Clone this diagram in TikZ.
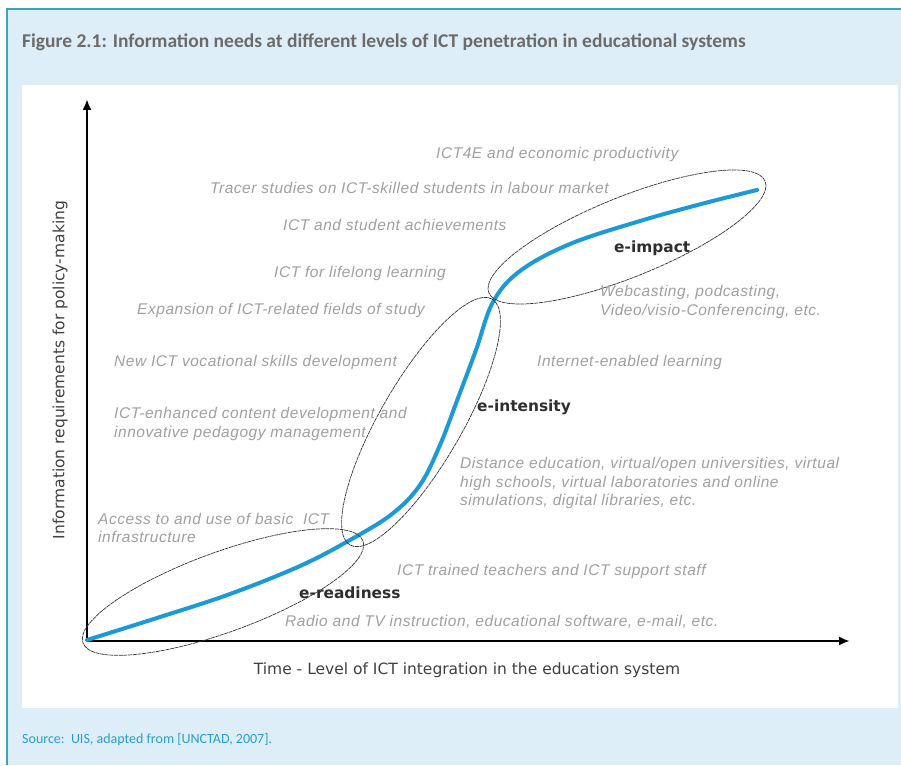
\documentclass[tikz,border=0pt]{standalone}
\usepackage{fontspec}
\setmainfont{Liberation Sans}
\newfontfamily\captfont{Carlito}
\newfontfamily\axisfont{DejaVu Sans}
\newfontfamily\notefont[LetterSpace=3.5]{Liberation Sans}
\usetikzlibrary{shapes.geometric, arrows.meta, positioning}
\definecolor{framebg}{HTML}{DDEEF8}
\definecolor{frameline}{HTML}{3FA2BB}
\definecolor{notegray}{HTML}{A0A0A0}
\definecolor{stagegray}{HTML}{2E2E2E}
\definecolor{curveblue}{HTML}{1C9AD6}
\definecolor{sourceblue}{HTML}{2A9DCC}

\begin{document}
\begin{tikzpicture}[x=1pt, y=-1pt,
    note/.style={font=\notefont\itshape\fontsize{15.5}{18.5}\selectfont,
      text=notegray, anchor=west, inner sep=0pt, align=left},
    stage/.style={font=\axisfont\bfseries\fontsize{15.4}{18}\selectfont,
      text=stagegray, inner sep=0pt, anchor=west},
    zone/.style={ellipse, draw=black!80, line width=0.7pt,
      dash pattern=on 4pt off 0.7pt, inner sep=0pt},
    axislabel/.style={font=\axisfont\fontsize{15.5}{18}\selectfont,
      text=black!75, inner sep=0pt}]
  \useasboundingbox (0,0) rectangle (901,765);

  % FRAME

  \fill[framebg] (7,9) rectangle (901,765);
  \draw[frameline, line width=1.6pt] (901,9) -- (7,9) -- (7,765);
  \fill[white] (22,85) rectangle (898,708);

  \node[anchor=west, inner sep=0pt, text=black!58,
    font=\captfont\bfseries\fontsize{19.5}{22}\selectfont] (figtitle) at (22,42)
    {Figure 2.1: Information needs at different levels of ICT penetration in educational systems};

  \node[anchor=west, inner sep=0pt, text=sourceblue,
    font=\captfont\fontsize{14}{16}\selectfont] (source) at (22,740)
    {Source:~~UIS, adapted from [UNCTAD, 2007].};

  % AXES

  \coordinate (origin) at (87,641);
  \coordinate (ytip) at (87,99);
  \coordinate (xtip) at (850,641);
  \draw[line width=2.2pt, -{Latex[length=11pt,width=9pt]}] (origin) -- (ytip);
  \draw[line width=2.2pt, -{Latex[length=11pt,width=9pt]}] (origin) -- (xtip);

  \node[axislabel, rotate=90] (ylabel) at (60,370)
    {Information requirements for policy-making};
  \node[axislabel] (xlabel) at (467,670)
    {Time - Level of ICT integration in the education system};

  % CURVE

  \draw[curveblue, line width=4pt, line cap=round]
    plot[smooth, tension=0.6] coordinates {(87,640) (160,617) (230,594)
      (300,566) (350,540) (392,514) (420,485) (440,445) (458,398)
      (476,350) (493,302) (520,271) (570,244) (640,221) (705,203) (757,190)};

  % ZONES

  \node[zone, minimum width=298, minimum height=80, rotate=20]
    (readyzone) at (223,592) {};
  \node[zone, minimum width=284, minimum height=82, rotate=60]
    (intenzone) at (421,422) {};
  \node[zone, minimum width=298, minimum height=80, rotate=22]
    (impactzone) at (627,237) {};

  \node[stage] (readiness) at (299,593) {e-readiness};
  \node[stage] (intensity) at (477,407) {e-intensity};
  \node[stage] (impact) at (614,248) {e-impact};

  % NEEDS (left) AND MEANS (right)

  \node[note] (productivity) at (436,154) {ICT4E and economic productivity};
  \node[note] (tracer) at (210,188) {Tracer studies on ICT-skilled students in labour market};
  \node[note] (achieve) at (283,225) {ICT and student achievements};
  \node[note] (lifelong) at (274,273) {ICT for lifelong learning};
  \node[note] (fields) at (137,310) {Expansion of ICT-related fields of study};
  \node[note] (vocational) at (114,362) {New ICT vocational skills development};
  \node[note] (content) at (114,424)
    {ICT-enhanced content development and\\innovative pedagogy management};
  \node[note] (access) at (98,528)
    {Access to and use of basic~~ICT\\infrastructure};

  \node[note] (webcast) at (600,302)
    {Webcasting, podcasting,\\Video/visio-Conferencing, etc.};
  \node[note] (internet) at (537,362) {Internet-enabled learning};
  \node[note] (distance) at (460,483)
    {Distance education, virtual/open universities, virtual\\high schools, virtual laboratories and online\\simulations, digital libraries, etc.};
  \node[note] (teachers) at (397,571) {ICT trained teachers and ICT support staff};
  \node[note] (radio) at (285,622)
    {Radio and TV instruction, educational software, e-mail, etc.};

\end{tikzpicture}
\end{document}
